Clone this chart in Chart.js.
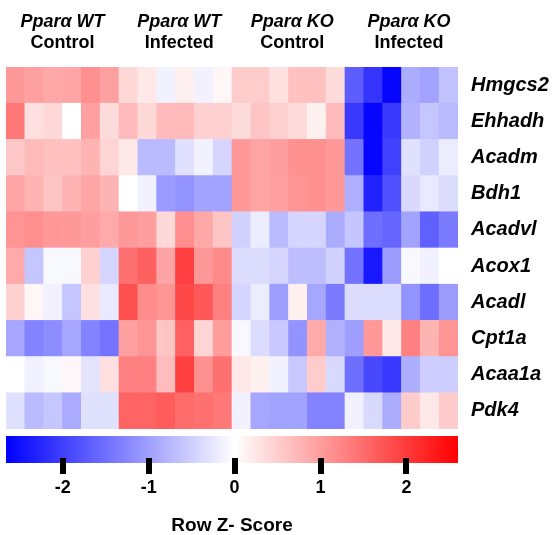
<!DOCTYPE html>
<html>
<head>
<meta charset="utf-8">
<script src="https://cdn.jsdelivr.net/npm/chart.js@4"></script>
<style>
  body { margin: 0; background: #fff; }
  #wrap { position: relative; width: 555px; height: 535px; }
  canvas { position: absolute; left: 0; }
  #heat { top: 0; }
  #scale { top: 432px; }
</style>
</head>
<body>
<div id="wrap">
  <canvas id="heat" width="555" height="429"></canvas>
  <canvas id="scale" width="555" height="103"></canvas>
</div>
<script>
// samples (columns) and group headers
var samples = ["WT-C1", "WT-C2", "WT-C3", "WT-C4", "WT-C5", "WT-C6",
	"WT-I1", "WT-I2", "WT-I3", "WT-I4", "WT-I5", "WT-I6",
	"KO-C1", "KO-C2", "KO-C3", "KO-C4", "KO-C5", "KO-C6",
	"KO-I1", "KO-I2", "KO-I3", "KO-I4", "KO-I5", "KO-I6"];
var groupTop = ["Pparα WT", "Pparα WT", "Pparα KO", "Pparα KO"];
var groupBottom = ["Control", "Infected", "Control", "Infected"];
var groupSize = 6;

// genes top to bottom
var genes = ["Hmgcs2", "Ehhadh", "Acadm", "Bdh1", "Acadvl", "Acox1", "Acadl", "Cpt1a", "Acaa1a", "Pdk4"];

// row z-scores
var hmgcs2 = [1.04, 0.97, 0.89, 0.92, 1.13, 0.97, 0.40, 0.23, -0.15, 0.15, -0.15, 0.08, 0.52, 0.52, 0.32, 0.64, 0.64, 0.36, -1.68, -2.11, -2.6, -0.87, -0.97, -0.64];
var ehhadh = [1.39, 0.32, 0.40, 0, 0.97, 0.36, 0.69, 0.40, 0.69, 0.69, 0.48, 0.48, 0.36, 0.60, 0.48, 0.38, 0.15, 0.69, -2.06, -2.6, -2.06, -0.81, -0.60, -0.72];
var acadm = [0.56, 0.70, 0.64, 0.64, 0.76, 0.44, 0.23, -0.72, -0.72, -0.32, -0.15, -0.44, 1.04, 0.93, 0.99, 1.13, 1.13, 1.04, -1.46, -2.6, -1.99, -0.32, -0.48, -0.20];
var bdh1 = [0.92, 0.76, 0.60, 0.76, 0.92, 0.76, 0, -0.15, -1.04, -1.13, -0.97, -0.97, 1.04, 0.93, 0.97, 1.09, 1.13, 1.04, -0.83, -2.31, -1.83, -0.40, -0.23, -0.36];
var acadvl = [1.09, 1.15, 1.04, 1.04, 0.99, 0.87, 1.04, 0.99, 0.40, 1.15, 0.89, 0.60, -0.48, -0.20, -0.72, -0.44, -0.44, -0.87, -0.60, -1.50, -1.60, -0.97, -1.66, -1.38];
var acox1 = [0.87, -0.60, -0.07, -0.07, 0.48, -0.44, 1.46, 1.62, 0.93, 1.95, 1.04, 1.19, -0.36, -0.36, -0.44, -0.68, -0.68, -0.48, -1.46, -2.40, -1.03, -0.07, -0.15, 0];
var acadl = [0.48, 0.08, -0.15, -0.60, 0.32, -0.23, 1.78, 1.17, 1.09, 1.87, 1.70, 1.29, -0.44, -0.20, -1.01, 0.15, -0.93, -1.38, -0.36, -0.36, -0.36, -1.13, -1.52, -1.03];
var cpt1a = [-0.93, -1.29, -1.19, -0.93, -1.29, -1.46, 0.97, 1.09, 0.60, 1.62, 0.44, 1.00, -0.07, -0.36, -0.56, -1.13, 0.87, -0.81, -1.01, 1.04, 0.23, 1.29, 0.76, 1.09];
var acaa1a = [0, -0.15, -0.07, 0.08, -0.28, 0.32, 1.29, 1.29, 0.68, 1.95, 1.13, 1.46, 0.23, 0.15, -0.15, -0.56, 0.52, -0.40, -1.50, -1.91, -2.07, -0.85, -0.52, -0.52];
var pdk4 = [-0.32, -0.72, -0.60, -0.89, -0.32, -0.32, 1.58, 1.58, 1.66, 1.50, 1.46, 1.38, -0.15, -0.93, -0.97, -0.97, -1.29, -1.29, -0.15, -0.40, -0.87, 0.52, 0.23, 0.52];
var rows = [hmgcs2, ehhadh, acadm, bdh1, acadvl, acox1, acadl, cpt1a, acaa1a, pdk4];

// colour scale
var zMin = -2.66;
var zMax = 2.6;
var scaleTicks = [-2, -1, 0, 1, 2];
var scaleTitle = "Row Z- Score";

Chart.defaults.font.family = '"Liberation Sans", Arial, sans-serif';
Chart.defaults.color = "#000";

function zColor(z) {
	var t, c;
	if (z >= 0) {
		t = Math.min(z / zMax, 1);
		c = Math.round(255 * (1 - t));
		return "rgb(255," + c + "," + c + ")";
	}
	t = Math.min(z / zMin, 1);
	c = Math.round(255 * (1 - t));
	return "rgb(" + c + "," + c + ",255)";
}

// one stacked dataset per gene, bottom row first
var datasets = [];
for (var r = rows.length - 1; r >= 0; r--) {
	datasets.push({
		label: genes[r],
		data: samples.map(function () { return 1; }),
		backgroundColor: rows[r].map(zColor),
		borderWidth: 0,
		barPercentage: 1,
		categoryPercentage: 1,
		yAxisID: "y"
	});
}

var groupCenters = groupTop.map(function (g, i) { return groupSize * i + groupSize / 2; });
// headers sit a little right of the group middle in the original
var headerShift = [0, 0.2, 0.2, 0.4];

function headerTicks(axis) {
	axis.ticks = groupCenters.map(function (v, i) { return { value: v + headerShift[i] }; });
}

new Chart(document.getElementById("heat"), {
	type: "bar",
	data: { labels: samples, datasets: datasets },
	options: {
		responsive: false,
		animation: false,
		layout: { padding: { left: 6, right: 0, top: 0, bottom: 0 } },
		plugins: { legend: { display: false }, tooltip: { enabled: false } },
		scales: {
			x: { type: "category", stacked: true, display: false },
			y: { type: "linear", stacked: true, min: 0, max: genes.length, display: false },
			head1: {
				type: "linear", position: "top", axis: "x", weight: 2,
				min: 0, max: samples.length, offset: false,
				grid: { display: false, drawTicks: false }, border: { display: false },
				afterBuildTicks: headerTicks,
				afterFit: function (a) { a.height = 33; },
				ticks: {
					padding: 0, maxRotation: 0, autoSkip: false,
					font: { size: 18, weight: "bold", style: "italic" },
					callback: function (v, i) { return groupTop[i]; }
				}
			},
			head2: {
				type: "linear", position: "top", axis: "x", weight: 1,
				min: 0, max: samples.length, offset: false,
				grid: { display: false, drawTicks: false }, border: { display: false },
				afterBuildTicks: headerTicks,
				afterFit: function (a) { a.height = 34; },
				ticks: {
					padding: 13, maxRotation: 0, autoSkip: false,
					font: { size: 18, weight: "bold" },
					callback: function (v, i) { return groupBottom[i]; }
				}
			},
			genes: {
				type: "category", position: "right", axis: "y",
				labels: genes, offset: true,
				grid: { display: false, drawTicks: false }, border: { display: false },
				afterFit: function (a) {
					a.width = 97;
					a.paddingTop = 0;
					a.paddingBottom = 0;
				},
				ticks: {
					padding: 13, autoSkip: false,
					font: { size: 20, weight: "bold", style: "italic" }
				}
			}
		}
	}
});

// colour key
var tickMarks = {
	id: "tickMarks",
	afterDatasetsDraw: function (chart) {
		var ctx = chart.ctx;
		var xs = chart.scales.x;
		var bottom = chart.chartArea.bottom;
		ctx.save();
		ctx.fillStyle = "#000";
		xs.ticks.forEach(function (t) {
			var px = xs.getPixelForValue(t.value);
			ctx.fillRect(Math.round(px) - 3, bottom - 5, 6, 16);
		});
		ctx.restore();
	}
};

new Chart(document.getElementById("scale"), {
	type: "bar",
	data: {
		labels: [scaleTitle],
		datasets: [{
			data: [[zMin, zMax]],
			barPercentage: 1,
			categoryPercentage: 1,
			borderWidth: 0,
			backgroundColor: function (c) {
				var chart = c.chart;
				if (!chart.chartArea) return "#fff";
				var xs = chart.scales.x;
				var x0 = xs.getPixelForValue(zMin);
				var x1 = xs.getPixelForValue(zMax);
				var g = chart.ctx.createLinearGradient(x0, 0, x1, 0);
				g.addColorStop(0, zColor(zMin));
				g.addColorStop((0 - zMin) / (zMax - zMin), zColor(0));
				g.addColorStop(1, zColor(zMax));
				return g;
			}
		}]
	},
	options: {
		indexAxis: "y",
		responsive: false,
		animation: false,
		layout: { padding: { left: 6, right: 97, top: 4, bottom: 0 } },
		plugins: { legend: { display: false }, tooltip: { enabled: false } },
		scales: {
			y: { display: false },
			x: {
				type: "linear", min: zMin, max: zMax, offset: false,
				grid: { display: false, drawTicks: false }, border: { display: false },
				afterBuildTicks: function (a) {
					a.ticks = scaleTicks.map(function (v) { return { value: v }; });
				},
				afterFit: function (a) { a.height = 72; },
				ticks: {
					padding: 14, autoSkip: false, maxRotation: 0,
					font: { size: 18, weight: "bold" }
				},
				title: {
					display: true, text: scaleTitle,
					padding: { top: 0, bottom: 0 },
					font: { size: 19, weight: "bold", lineHeight: 1 }
				}
			}
		}
	},
	plugins: [tickMarks]
});
</script>
</body>
</html>
